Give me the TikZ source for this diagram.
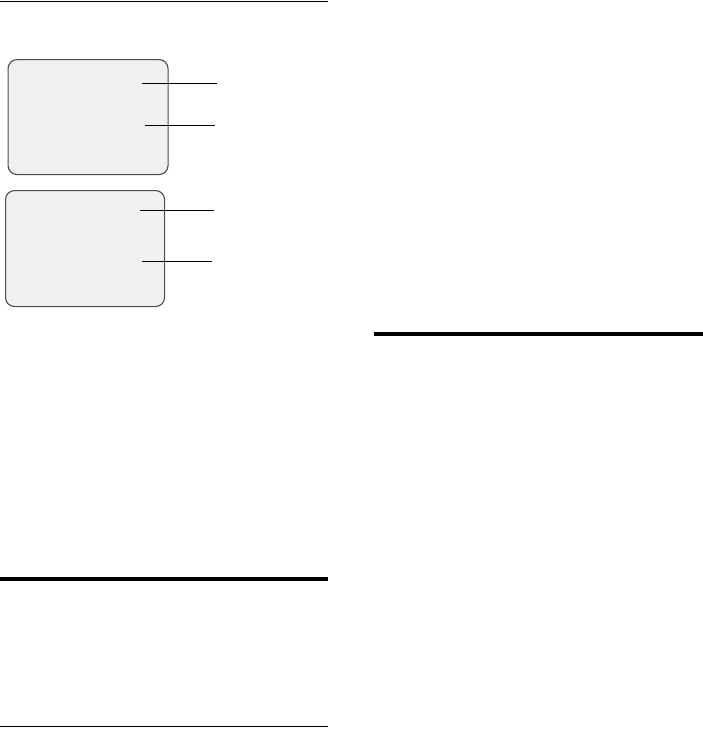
\documentclass[tikz,border=0pt]{standalone}
\begin{document}
\begin{tikzpicture}[x=1pt,y=-1pt,
  screen/.style={draw=black!70,fill=black!6,line width=1.1pt,rounded corners=9pt},
  leader/.style={draw=black,line width=1pt},
  thinrule/.style={draw=black,line width=1.1pt},
  thickrule/.style={draw=black,line width=3.2pt}]
\useasboundingbox (0,0) rectangle (703,734);
% rules
\coordinate (t1) at (0,1.5); \coordinate (t2) at (328,1.5);
\draw[thinrule] (t1) -- (t2);
\coordinate (r1) at (374,334); \coordinate (r2) at (703,334);
\draw[thickrule] (r1) -- (r2);
\coordinate (b1) at (0,579); \coordinate (b2) at (328,579);
\draw[thickrule] (b1) -- (b2);
\coordinate (c1) at (0,726.5); \coordinate (c2) at (328,726.5);
\draw[thinrule] (c1) -- (c2);
% screens
\node[screen,inner sep=0pt,minimum width=160pt,minimum height=115pt,anchor=north west] (s1) at (7.5,59) {};
\node[screen,inner sep=0pt,minimum width=159pt,minimum height=116pt,anchor=north west] (s2) at (5,190) {};
% leader lines
\coordinate (a1) at (142,83); \coordinate (a2) at (217,83);
\coordinate (b3) at (145,125); \coordinate (b4) at (215,125);
\coordinate (c3) at (140,210); \coordinate (c4) at (214,210);
\coordinate (d1) at (142,261); \coordinate (d2) at (212,261);
\draw[leader] (a1) -- (a2);
\draw[leader] (b3) -- (b4);
\draw[leader] (c3) -- (c4);
\draw[leader] (d1) -- (d2);
\end{tikzpicture}
\end{document}
